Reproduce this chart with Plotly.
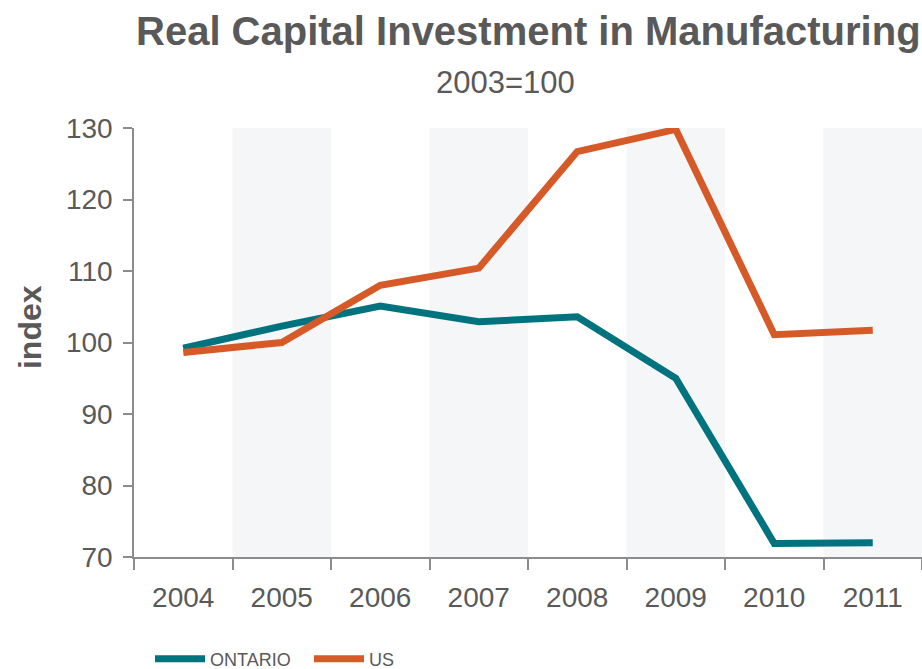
import plotly.graph_objects as go

# Real capital investment in manufacturing, index 2003=100
years = ["2004", "2005", "2006", "2007", "2008", "2009", "2010", "2011"]
ontario = [99.2, 102.3, 105.1, 102.9, 103.6, 95.0, 71.9, 72.0]
us = [98.6, 100.0, 108.0, 110.4, 126.7, 129.8, 101.1, 101.7]
y_ticks = [70, 80, 90, 100, 110, 120, 130]

TEAL = "#00737E"
ORANGE = "#D65A27"
TEXT = "#595959"
AXIS = "#8C8C8C"
BAND = "#F5F6F8"
FONT = "Liberation Sans, Arial, sans-serif"

fig = go.Figure()
fig.add_trace(go.Scatter(x=years, y=ontario, name="ONTARIO", mode="lines",
                         line=dict(color=TEAL, width=7), cliponaxis=False))
fig.add_trace(go.Scatter(x=years, y=us, name="US", mode="lines",
                         line=dict(color=ORANGE, width=7), cliponaxis=False))

# alternating shaded columns behind every second year
for i in range(1, len(years), 2):
    fig.add_shape(type="rect", xref="x", yref="paper", x0=i - 0.5, x1=i + 0.5,
                  y0=0, y1=1, fillcolor=BAND, line=dict(width=0), layer="below")

fig.update_layout(
    width=922, height=669,
    margin=dict(l=134, r=0, t=128, b=112, autoexpand=False),
    paper_bgcolor="white", plot_bgcolor="white",
    font=dict(family=FONT, color=TEXT),
    showlegend=True,
    legend=dict(orientation="h", xref="container", yref="container",
                x=150 / 922, y=1 - 659 / 669, xanchor="left", yanchor="middle",
                font=dict(size=18, color=TEXT), itemwidth=50,
                entrywidth=94, entrywidthmode="pixels", bgcolor="rgba(0,0,0,0)"),
    xaxis=dict(type="category", range=[-0.5, len(years) - 0.5], showgrid=False,
               showline=True, linecolor=AXIS, linewidth=1.5, automargin=False,
               ticks="outside", tickson="boundaries", ticklen=11, tickcolor=AXIS,
               tickwidth=1.5, tickfont=dict(size=28, color=TEXT), ticklabelstandoff=15),
    yaxis=dict(range=[70, 130], tickvals=y_ticks, showgrid=False, zeroline=False,
               showline=True, linecolor=AXIS, linewidth=1.5, automargin=False,
               ticks="outside", ticklen=9, tickcolor=AXIS, tickwidth=1.5,
               tickfont=dict(size=28, color=TEXT), ticklabelstandoff=5),
    annotations=[
        dict(text="<b>Real Capital Investment in Manufacturing</b>", xref="paper", yref="paper",
             x=0.5, y=1.226, xanchor="center", yanchor="middle", showarrow=False,
             font=dict(size=40, color=TEXT)),
        dict(text="2003=100", xref="paper", yref="paper",
             x=(505 - 134) / 788, y=1.106, xanchor="center", yanchor="middle", showarrow=False,
             font=dict(size=31, color=TEXT)),
        dict(text="<b>index</b>", xref="paper", yref="paper", textangle=-90,
             x=(30 - 134) / 788, y=0.536, xanchor="center", yanchor="middle", showarrow=False,
             font=dict(size=32, color=TEXT)),
    ],
)

fig.write_html("out.html")
